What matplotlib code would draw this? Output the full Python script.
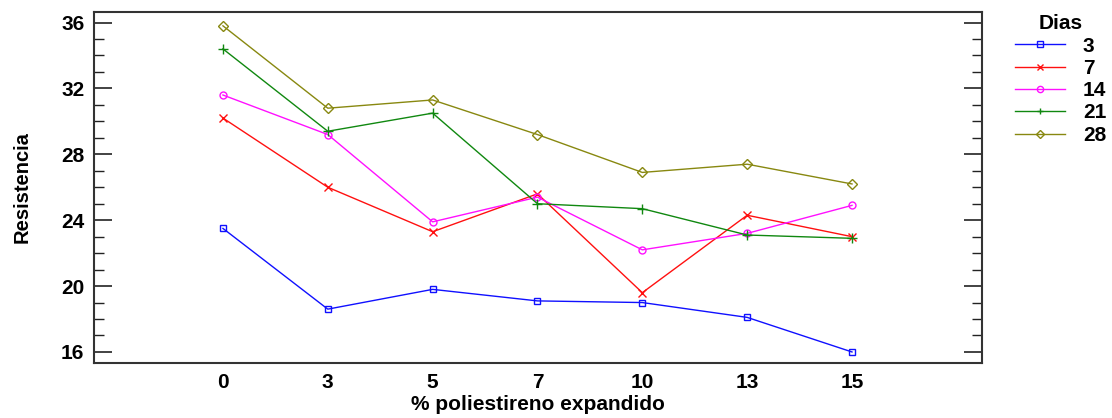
import matplotlib
matplotlib.use("Agg")
import matplotlib.pyplot as plt
from matplotlib.ticker import MultipleLocator

plt.rcParams['font.family'] = ['Liberation Sans', 'DejaVu Sans']
plt.rcParams['font.weight'] = 'bold'

porcentajes = ["0", "3", "5", "7", "10", "13", "15"]
dias = ["3", "7", "14", "21", "28"]
res_3 = [23.5, 18.6, 19.8, 19.1, 19.0, 18.1, 16.0]
res_7 = [30.2, 26.0, 23.3, 25.6, 19.6, 24.3, 23.0]
res_14 = [31.6, 29.2, 23.9, 25.4, 22.2, 23.2, 24.9]
res_21 = [34.4, 29.4, 30.5, 25.0, 24.7, 23.1, 22.9]
res_28 = [35.8, 30.8, 31.3, 29.2, 26.9, 27.4, 26.2]

series = [res_3, res_7, res_14, res_21, res_28]
colores = ["#1010FF", "#FF1010", "#FF10FF", "#108810", "#888810"]
marcadores = ["s", "x", "o", "+", "D"]
tam_marcador = [4.5, 5.5, 5, 6.5, 5]

fig = plt.figure(figsize=(11.12, 4.18), dpi=100)
ax = fig.add_axes([94 / 1112, 1 - 363 / 418, (982 - 94) / 1112, (363 - 12) / 418])

x = list(range(len(porcentajes)))
for vals, c, m, ms, d in zip(series, colores, marcadores, tam_marcador, dias):
    ax.plot(x, vals, color=c, lw=1.0, marker=m, ms=ms, mfc='none', mec=c,
            mew=1.0, label=d)

ax.set_xlim(-1.23, 7.24)
ax.set_ylim(15.33, 36.64)
ax.set_xticks(x)
ax.set_xticklabels(porcentajes)
ax.yaxis.set_major_locator(MultipleLocator(4))
ax.yaxis.set_minor_locator(MultipleLocator(1))
ax.tick_params(axis='x', length=0, labelsize=15, pad=7)
ax.tick_params(axis='y', which='major', direction='in', length=13, width=1.2,
               labelsize=15, left=True, right=True, color='#222222', pad=7)
ax.tick_params(axis='y', which='minor', direction='in', length=7, width=1.0,
               left=True, right=True, color='#222222')
for s in ax.spines.values():
    s.set_color('#333333')
    s.set_linewidth(1.5)

ax.set_xlabel("% poliestireno expandido", fontsize=15, fontweight='bold', labelpad=2)
ax.set_ylabel("Resistencia", fontsize=14.5, fontweight='bold')
ax.yaxis.set_label_coords(-62 / 888, 0.5)

leg = fig.legend(loc='upper left', bbox_to_anchor=(1011 / 1112, 1 - 10 / 418),
                 frameon=False, fontsize=15, title="Dias",
                 title_fontproperties={'weight': 'bold', 'size': 15},
                 handlelength=2.4, labelspacing=0.16, handletextpad=0.85,
                 borderpad=0.2, borderaxespad=0.0)
for h in leg.legend_handles:
    h.set_markersize(4.5)

fig.savefig("out.png", dpi=100)
